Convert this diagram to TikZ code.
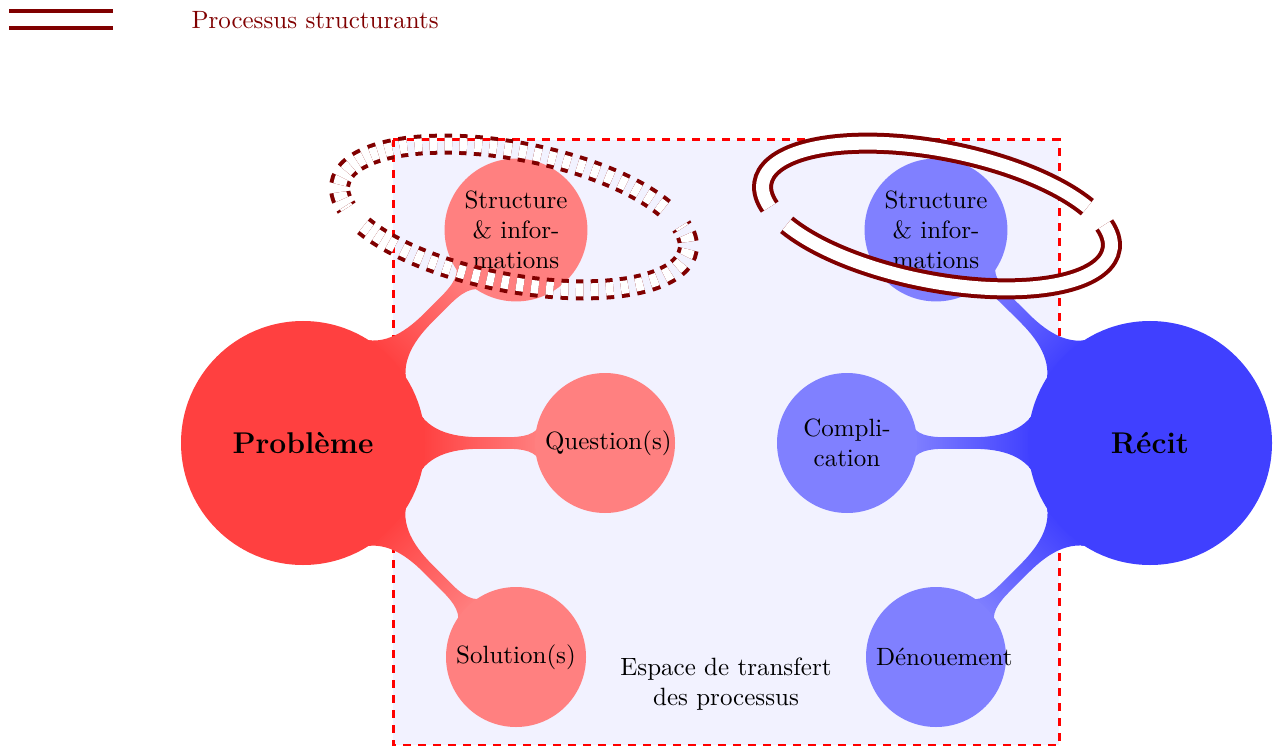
\documentclass[tikz,border=0pt]{standalone}
\usetikzlibrary{mindmap,backgrounds}
\definecolor{ringred}{rgb}{0.5,0,0}
\definecolor{spacefill}{rgb}{0.95,0.95,1}
\pgfdeclarelayer{barlayer}
\pgfsetlayers{background,barlayer,main}
\begin{document}
\begin{tikzpicture}[x=0.4pt,y=-0.4pt,
  rootnode/.style={circle, minimum size=97.6pt, inner sep=0pt, outer sep=-1.5pt, align=center, font=\large\bfseries},
  childnode/.style={circle, minimum size=56pt, inner sep=0pt, outer sep=-1.5pt, text width=48pt, align=center},
  ring/.style={draw=ringred, line width=1.6pt, double=white, double distance=5.2pt},
  spacebox/.style={draw=red, very thick, dashed, fill=spacefill},
  legendtext/.style={text=ringred, anchor=west, inner sep=0pt}
]
\useasboundingbox (0,0) rectangle (1280,746);

% legend
\coordinate (L1) at (9,20);
\coordinate (L2) at (113,20);
\draw[ring] (L1) -- (L2);
\node[legendtext] (LT) at (191,20) {Processus structurants};

% transfer space
\begin{pgfonlayer}{background}
\coordinate (B1) at (393,140);
\coordinate (B2) at (1059,745);
\draw[spacebox] (B1) rectangle (B2);
\end{pgfonlayer}

% concepts
\node[rootnode, fill=red!75] (P) at (303,443) {Problème};
\node[childnode, fill=red!50] (PS) at (516,230) {Structure\\\& infor-\\mations};
\node[childnode, fill=red!50] (PQ) at (605,443) {Question(s)};
\node[childnode, fill=red!50] (PSol) at (516,657) {Solution(s)};

\node[rootnode, fill=blue!75] (R) at (1150,443) {Récit};
\node[childnode, fill=blue!50] (RS) at (936,230) {Structure\\\& infor-\\mations};
\node[childnode, fill=blue!50] (RC) at (847,443) {Compli-\\cation};
\node[childnode, fill=blue!50] (RD) at (936,657) {\mbox{Dénouement}};

\begin{pgfonlayer}{barlayer}
\path (P) to[circle connection bar switch color=from (red!75) to (red!50)] (PS);
\path (P) to[circle connection bar switch color=from (red!75) to (red!50)] (PQ);
\path (P) to[circle connection bar switch color=from (red!75) to (red!50)] (PSol);
\path (R) to[circle connection bar switch color=from (blue!75) to (blue!50)] (RS);
\path (R) to[circle connection bar switch color=from (blue!75) to (blue!50)] (RC);
\path (R) to[circle connection bar switch color=from (blue!75) to (blue!50)] (RD);
\end{pgfonlayer}

\node[align=center] (ET) at (726,684) {Espace de transfert\\des processus};

% rings
\coordinate (E1) at (514,217);
\coordinate (E2) at (937,216);
\begin{scope}[shift={(E1)}, rotate=-11]
  \draw[ring, dashed] (34.6:70.9pt and 26.3pt) arc[start angle=34.6, end angle=200.6, x radius=70.9pt, y radius=26.3pt];
  \draw[ring, dashed] (214.6:70.9pt and 26.3pt) arc[start angle=214.6, end angle=380.6, x radius=70.9pt, y radius=26.3pt];
\end{scope}
\begin{scope}[shift={(E2)}, rotate=-11]
  \draw[ring] (34.6:70.9pt and 26.3pt) arc[start angle=34.6, end angle=200.6, x radius=70.9pt, y radius=26.3pt];
  \draw[ring] (214.6:70.9pt and 26.3pt) arc[start angle=214.6, end angle=380.6, x radius=70.9pt, y radius=26.3pt];
\end{scope}
\end{tikzpicture}
\end{document}
